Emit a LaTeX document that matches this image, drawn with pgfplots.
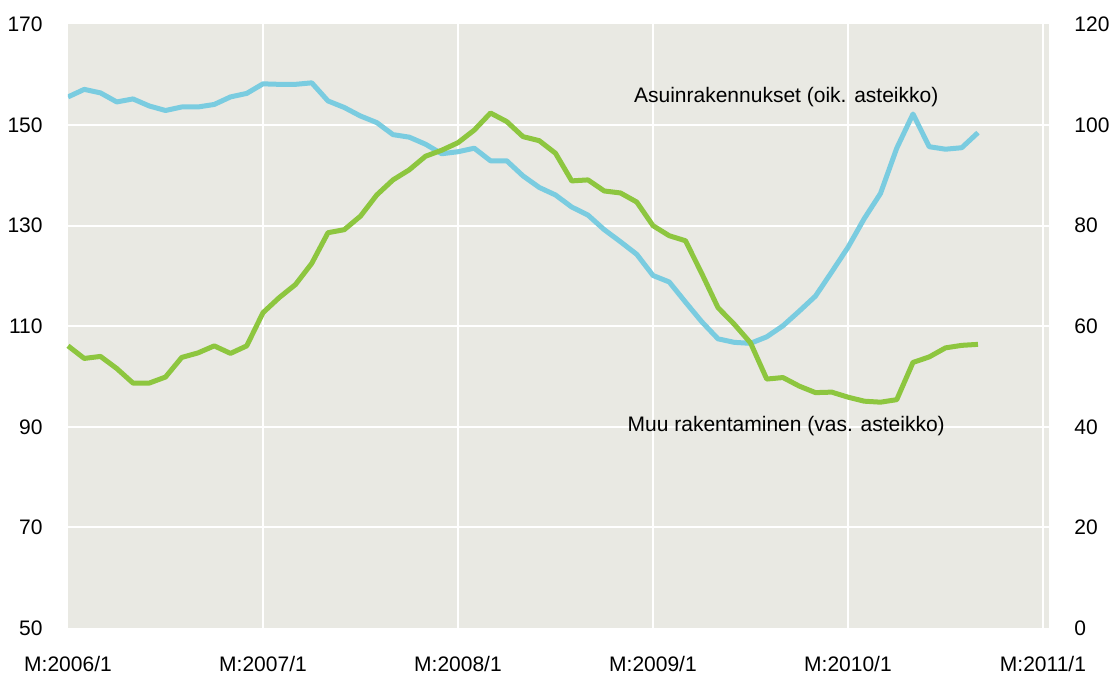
\documentclass[border=0pt]{standalone}
\usepackage{fontspec}
\setmainfont{Liberation Sans}
\usepackage{pgfplots}
\pgfplotsset{compat=1.18}

\definecolor{bg}{RGB}{233,233,227}
\definecolor{cblue}{RGB}{122,204,224}
\definecolor{cgreen}{RGB}{141,198,63}

\pgfplotstableread{
m v
0 106.1
1 103.6
2 104.0
3 101.6
4 98.7
5 98.7
6 99.9
7 103.8
8 104.7
9 106.1
10 104.6
11 106.1
12 112.7
13 115.7
14 118.3
15 122.5
16 128.6
17 129.2
18 131.9
19 136.1
20 139.1
21 141.1
22 143.8
23 145.0
24 146.5
25 149.0
26 152.4
27 150.7
28 147.7
29 146.9
30 144.4
31 138.9
32 139.1
33 136.9
34 136.5
35 134.7
36 130.0
37 128.0
38 127.0
39 120.5
40 113.7
41 110.4
42 106.7
43 99.5
44 99.8
45 98.1
46 96.8
47 96.9
48 95.9
49 95.1
50 94.9
51 95.4
52 102.8
53 103.9
54 105.7
55 106.2
56 106.4
}\muu

\pgfplotstableread{
m v
0 105.6
1 107.1
2 106.4
3 104.6
4 105.2
5 103.8
6 102.9
7 103.6
8 103.6
9 104.1
10 105.6
11 106.3
12 108.2
13 108.1
14 108.1
15 108.4
16 104.8
17 103.5
18 101.8
19 100.5
20 98.1
21 97.6
22 96.2
23 94.3
24 94.7
25 95.4
26 92.9
27 92.9
28 89.9
29 87.6
30 86.1
31 83.7
32 82.1
33 79.2
34 76.8
35 74.3
36 70.1
37 68.8
38 64.8
39 60.9
40 57.5
41 56.8
42 56.6
43 57.9
44 60.1
45 63.0
46 66.0
47 70.8
48 75.7
49 81.4
50 86.4
51 95.4
52 102.2
53 95.7
54 95.2
55 95.5
56 98.5
}\asuin

\begin{document}
\fontsize{10.5pt}{12pt}\selectfont
\begin{tikzpicture}
\useasboundingbox (-34pt,-23.5pt) rectangle (521pt,314pt);
\pgfplotsset{
  common/.style={
    scale only axis, width=490.5pt, height=301.75pt,
    at={(0pt,0pt)}, anchor=south west,
    xmin=0, xmax=60.37,
    axis line style={draw=none},
    major tick length=0pt, minor tick length=0pt,
    tick style={draw=none},
    /pgf/number format/assume math mode=true,
    tick label style={font=\fontsize{10.5pt}{12pt}\selectfont},
  }
}
% right scale (Asuinrakennukset), drawn first with background and grid
\begin{axis}[common,
  axis y line*=right,
  ymin=0, ymax=120,
  ytick={0,20,...,120},
  yticklabel style={anchor=west, inner sep=0pt},
  yticklabel shift=12.5pt,
  xtick={0,12,...,60},
  xticklabels={},
  minor xtick={12,24,36,48,60},
  minor ytick={20,40,...,100},
  grid=minor,
  minor grid style={white, line width=1pt},
  axis background/.style={fill=bg},
]
\addplot[cblue, line width=2.5pt, line join=round] table[x=m,y=v] {\asuin};
\end{axis}
% left scale (Muu rakentaminen)
\begin{axis}[common,
  axis y line*=left,
  ymin=50, ymax=170,
  ytick={50,70,...,170},
  yticklabel style={anchor=east, inner sep=0pt},
  yticklabel shift=12.5pt,
  xtick={0,12,...,60},
  xticklabels={M:2006/1,M:2007/1,M:2008/1,M:2009/1,M:2010/1,M:2011/1},
  xticklabel style={anchor=north, inner sep=0pt},
  xticklabel shift=14pt,
  clip=false,
]
\addplot[cgreen, line width=2.5pt, line join=round] table[x=m,y=v] {\muu};
\node[font=\fontsize{10.5pt}{12pt}\selectfont] at (axis cs:44.2,155.6) {Asuinrakennukset (oik. asteikko)};
\node[font=\fontsize{10.5pt}{12pt}\selectfont] at (axis cs:44.2,90.1) {Muu rakentaminen (vas. asteikko)};
\end{axis}
\end{tikzpicture}
\end{document}
